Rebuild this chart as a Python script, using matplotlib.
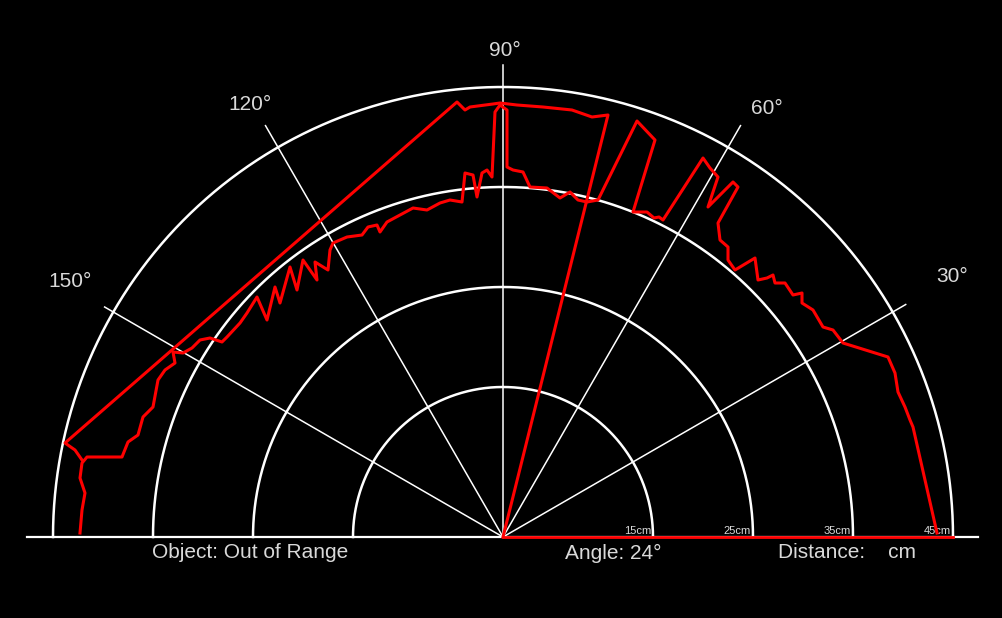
import numpy as np
import matplotlib.pyplot as plt

# ring radii (cm) and spoke angles (deg)
ring_cm = [15, 25, 35, 45]
spoke_deg = [30, 60, 90, 120, 150]

# scanned outline, x/y in cm from the sensor
scan_x = [43.4, 41.0, 40.7, 40.2, 39.5, 39.2, 38.5, 34.0, 33.0, 32.0, 31.0, 29.9, 29.9, 29.0,
          28.2, 27.2, 27.0, 26.4, 25.5, 25.2, 23.2, 22.5, 22.5, 21.7, 21.5, 23.5, 23.0, 20.5,
          21.5, 20.7, 20.0, 16.0, 15.6, 15.1, 14.4, 13.0, 15.2, 13.4, 9.5, 8.4, 7.5, 6.7, 5.7,
          4.4, 2.7, 2.0, 1.0, 0.4, 0.4, -0.3, -0.8, -1.1, -1.6, -2.1, -2.6, -3.0, -3.8, -4.1,
          -5.3, -6.3, -7.6, -9.0, -10.3, -11.6, -12.3, -12.6, -13.5, -14.1, -15.6, -17.0, -17.3,
          -17.5, -18.8, -18.6, -20.0, -20.6, -21.3, -22.3, -22.8, -23.6, -24.6, -25.6, -26.3,
          -27.6, -28.1, -29.3, -30.3, -31.1, -32.0, -33.0, -32.8, -33.8, -34.5, -35.0, -36.0,
          -36.5, -37.5, -38.1, -41.6, -42.1, -42.3, -41.8, -42.1, -42.3]
scan_y = [0.4, 11.0, 11.7, 13.0, 14.5, 16.4, 18.0, 19.4, 20.7, 21.0, 22.7, 23.4, 24.4, 24.2,
          25.4, 25.4, 26.2, 25.9, 25.7, 27.9, 26.7, 27.7, 29.0, 29.7, 31.4, 35.0, 35.5, 33.0,
          36.0, 36.9, 37.9, 31.7, 32.0, 31.9, 32.5, 32.5, 39.7, 41.6, 33.7, 33.5, 33.7, 34.5, 33.9,
          34.9, 35.0, 36.5, 36.7, 37.0, 42.7, 43.2, 42.5, 36.0, 36.7, 36.4, 34.0, 36.2, 36.4, 33.5,
          33.7, 33.4, 32.7, 32.9, 32.2, 31.5, 30.5, 31.2, 31.0, 30.2, 30.0, 29.4, 28.7,
          26.7, 27.5, 25.7, 27.7, 24.7, 27.0, 23.4, 25.0, 21.7, 24.0, 22.4, 21.4,
          20.0, 19.5, 19.9, 19.7, 18.9, 18.4, 18.5, 17.4, 16.7, 15.7, 13.0, 12.0,
          10.2, 9.5, 8.0, 8.0, 7.4, 5.9, 4.4, 2.7, 0.4]

# sweep line and the older top trace
sweep_x = [0.0, 10.5, 8.9, 6.9, 4.0, 1.4, -0.3, -1.0, -3.3, -3.8, -4.6, -43.8, -42.8, -42.1]
sweep_y = [0.0, 42.2, 42.0, 42.7, 43.0, 43.2, 43.4, 43.3, 43.0, 42.7, 43.5, 9.4, 8.7, 7.7]

FONT = ["Liberation Sans Narrow", "Liberation Sans", "DejaVu Sans"]
TXT = "#d9d9d9"

fig = plt.figure(figsize=(10.03, 6.18), dpi=100, facecolor="black")
ax = fig.add_axes([0, 0, 1, 1])
ax.set_facecolor("black")
ax.set_xlim(-50.3, 50.0)
ax.set_ylim(-8.1, 53.7)
ax.set_aspect("equal")
ax.axis("off")

theta = np.linspace(0, np.pi, 400)
for r in ring_cm:
    ax.plot(r * np.cos(theta), r * np.sin(theta), color="white", lw=1.8, zorder=2)
ax.plot([-47.6, 47.5], [0, 0], color="white", lw=1.6, zorder=2)

spoke_end = {30: 46.5, 60: 47.5, 90: 47.2, 120: 47.5, 150: 46.0}
label_r = {30: 50.5, 60: 49.5, 90: 48.7, 120: 49.5, 150: 49.5}
for d in spoke_deg:
    a = np.radians(d)
    ax.plot([0, spoke_end[d] * np.cos(a)], [0, spoke_end[d] * np.sin(a)],
            color="white", lw=1.1, zorder=2)
    dx = {30: 1.2, 60: 1.6, 90: 0.2, 120: -0.6, 150: -0.4}[d]
    dy = {30: 0.8, 60: 0.0, 90: 0.0, 120: 0.4, 150: 0.8}[d]
    ax.text(label_r[d] * np.cos(a) + dx, label_r[d] * np.sin(a) + dy, f"{d}°", color=TXT,
            fontsize=15, family=FONT, ha="center", va="center")

for r in ring_cm:
    ax.text(r - 0.2, 0.15, f"{r}cm", color=TXT, fontsize=8, family=FONT,
            ha="right", va="bottom")

ax.plot([0, 45], [0, 0], color="#ff0000", lw=2.0, zorder=3)
ax.plot(scan_x, scan_y, color="#ff0000", lw=2.2, zorder=4)
ax.plot(sweep_x, sweep_y, color="#ff0000", lw=2.2, zorder=4)

ax.text(-35.1, -1.6, "Object: Out of Range", color=TXT, fontsize=15, family=FONT, va="center")
ax.text(6.2, -1.6, "Angle: 24°", color=TXT, fontsize=15, family=FONT, va="center")
ax.text(27.5, -1.6, "Distance:    cm", color=TXT, fontsize=15, family=FONT, va="center")

fig.savefig("out.png", dpi=100, facecolor="black")
